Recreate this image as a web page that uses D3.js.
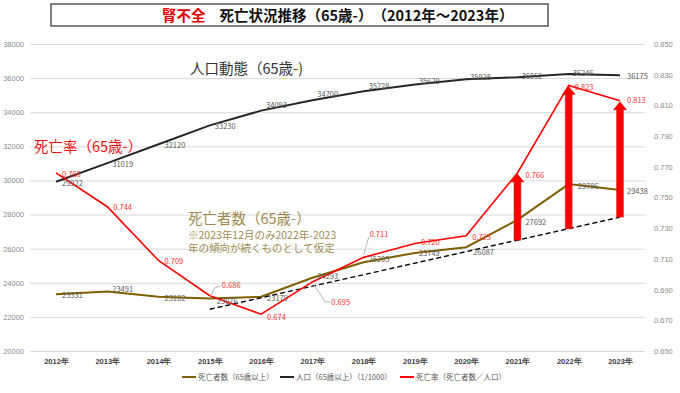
<!DOCTYPE html>
<html lang="ja">
<head>
    <meta charset="UTF-8">
    <title>腎不全 死亡状況推移</title>
    <style>
        body { margin: 0; background: #fff; }
        svg { display: block; font-family: "Noto Sans CJK JP", "Noto Sans", sans-serif; }
    </style>
</head>
<body>
    <div id="chart"></div>
    <script src="https://d3js.org/d3.v7.min.js"></script>
    <script>
        // Data
        const years = ["2012年", "2013年", "2014年", "2015年", "2016年", "2017年", "2018年", "2019年", "2020年", "2021年", "2022年", "2023年"];
        const deaths = [23331, 23491, 23182, 23076, 23179, 24293, 25205, 25749, 26087, 27692, 29786, 29438];
        const population = [29922, 31019, 32120, 33230, 34093, 34700, 35228, 35629, 35928, 36052, 36246, 36175];
        const deathRate = [0.766, 0.744, 0.709, 0.686, 0.674, 0.695, 0.711, 0.720, 0.725, 0.766, 0.823, 0.813];
        const trendYears = ["2015年", "2023年"];
        const trendValues = [22450, 27850];
        const arrowYears = ["2021年", "2022年", "2023年"];
        const leftTicks = [20000, 22000, 24000, 26000, 28000, 30000, 32000, 34000, 36000, 38000];
        const rightTicks = [0.650, 0.670, 0.690, 0.710, 0.730, 0.750, 0.770, 0.790, 0.810, 0.830, 0.850];

        const width = 680, height = 393;
        const svg = d3.select("#chart").append("svg")
            .attr("width", width)
            .attr("height", height);

        const x = d3.scalePoint().domain(years).range([56, 620]);
        const yL = d3.scaleLinear().domain([20000, 38000]).range([351, 44]);
        const yR = d3.scaleLinear().domain([0.65, 0.85]).range([351, 44]);

        // title box
        svg.append("rect")
            .attr("x", 51).attr("y", 4).attr("width", 497).attr("height", 22)
            .attr("fill", "#fff").attr("stroke", "#555").attr("stroke-width", 1.5);
        const title = svg.append("text")
            .attr("x", 162).attr("y", 21)
            .attr("font-size", 14.5).attr("font-weight", "bold");
        title.append("tspan").attr("fill", "#e00000").text("腎不全");
        title.append("tspan").attr("fill", "#111").attr("dx", 14).text("死亡状況推移（65歳-）　（2012年～2023年）");

        // gridlines + left axis
        const gridAxis = d3.axisLeft(yL).tickValues(leftTicks).tickSize(-615).tickPadding(6).tickFormat(d3.format("d"));
        const gl = svg.append("g").attr("transform", "translate(30,0)").call(gridAxis);
        gl.select(".domain").remove();
        gl.selectAll(".tick line").attr("stroke", "#d9d9d9");
        gl.selectAll(".tick text").attr("fill", "#8c8c8c").attr("font-size", 7.5);

        // right axis
        const ra = svg.append("g").attr("transform", "translate(651,0)")
            .call(d3.axisRight(yR).tickValues(rightTicks).tickSize(0).tickFormat(d3.format(".3f")));
        ra.select(".domain").remove();
        ra.selectAll(".tick text").attr("fill", "#8c8c8c").attr("font-size", 7.5).attr("dx", 0);

        // x axis labels
        const xa = svg.append("g").attr("transform", "translate(0,356)")
            .call(d3.axisBottom(x).tickSize(0));
        xa.select(".domain").remove();
        xa.selectAll(".tick text").attr("fill", "#404040").attr("font-size", 7.5).attr("font-weight", "bold");

        // lines
        const lineL = (vals) => d3.line().x((d, i) => x(years[i])).y(d => yL(d))(vals);
        svg.append("path").attr("d", lineL(population))
            .attr("fill", "none").attr("stroke", "#262626").attr("stroke-width", 2);
        svg.append("path").attr("d", lineL(deaths))
            .attr("fill", "none").attr("stroke", "#7f6000").attr("stroke-width", 2);

        // trend (dashed)
        svg.append("path")
            .attr("d", d3.line().x((d, i) => x(trendYears[i])).y(d => yL(d))(trendValues))
            .attr("fill", "none").attr("stroke", "#000").attr("stroke-width", 1.4)
            .attr("stroke-dasharray", "5,3");

        svg.append("path")
            .attr("d", d3.line().x((d, i) => x(years[i])).y(d => yR(d))(deathRate))
            .attr("fill", "none").attr("stroke", "#ff0000").attr("stroke-width", 1.6);

        // arrows from trend line up to death rate
        const trendAt = d3.scaleLinear()
            .domain(trendYears.map(y => x(y)))
            .range(trendValues);
        arrowYears.forEach(yr => {
            const i = years.indexOf(yr);
            const cx = x(yr);
            const yb = yL(trendAt(cx));
            const yt = yR(deathRate[i]) + 1;
            const bw = 3.4, hw = 6.5, hh = 8;
            const pts = [
                [cx - bw, yb], [cx - bw, yt + hh], [cx - hw, yt + hh], [cx, yt],
                [cx + hw, yt + hh], [cx + bw, yt + hh], [cx + bw, yb]
            ];
            svg.append("path").attr("d", d3.line()(pts) + "Z")
                .attr("fill", "#ff0000").attr("stroke", "#e00000").attr("stroke-width", 0.5);
        });

        // data labels
        const popOff = [[6, 2], [5, 1], [6, 1], [5, 1], [5, -5], [5, -6], [5, -5], [4, -3], [4, -2], [4, -1], [4, -1], [7, 1]];
        const deathOff = [[6, 1], [5, -2], [6, 2], [7, 3], [6, 2], [5, -1], [5, -3], [4, 0], [7, 5], [8, 3], [9, 2], [7, 1]];
        const rateOff = [[6, 1], [6, 1], [6, 1], [12, -10], [6, 3], [19, 20], [6, -23], [6, -1], [6, 1], [8, 2], [6, 2], [7, 0]];

        const labels = (vals, ys, off, color, fmt) => {
            svg.append("g").selectAll("text").data(vals).join("text")
                .attr("x", (d, i) => x(years[i]) + off[i][0])
                .attr("y", (d, i) => ys(d) + off[i][1])
                .attr("dy", "0.35em")
                .attr("font-size", 7.5)
                .attr("fill", color)
                .text(fmt);
        };
        labels(population, yL, popOff, "#595959", d => d);
        labels(deaths, yL, deathOff, "#595959", d => d);
        labels(deathRate, yR, rateOff, "#ff3030", d3.format(".3f"));

        // leader lines for moved rate labels
        const leaders = [[3, [[0, 2], [5, -8], [11, -10]]], [5, [[1, 2], [13, 20], [18, 20]]], [6, [[0, -2], [5, -20]]]];
        leaders.forEach(([i, pts]) => {
            const px = x(years[i]), py = yR(deathRate[i]);
            svg.append("path")
                .attr("d", d3.line()(pts.map(p => [px + p[0], py + p[1]])))
                .attr("fill", "none").attr("stroke", "#a6a6a6").attr("stroke-width", 0.8);
        });

        // annotations
        svg.append("text").attr("x", 190).attr("y", 74).attr("font-size", 14.5)
            .attr("fill", "#333").text("人口動態（65歳-)");
        svg.append("text").attr("x", 34).attr("y", 152).attr("font-size", 14.5)
            .attr("fill", "#ee1111").text("死亡率（65歳-）");
        svg.append("text").attr("x", 188).attr("y", 224).attr("font-size", 14.5)
            .attr("fill", "#a08a52").text("死亡者数（65歳-）");
        svg.append("text").attr("x", 188).attr("y", 239).attr("font-size", 10.5)
            .attr("fill", "#a08a52").text("※2023年12月のみ2022年-2023");
        svg.append("text").attr("x", 188).attr("y", 252).attr("font-size", 10.5)
            .attr("fill", "#a08a52").text("年の傾向が続くものとして仮定");

        // legend
        const legend = [
            { label: "死亡者数（65歳以上）", color: "#7f6000", x: 182 },
            { label: "人口（65歳以上）（1/1000）", color: "#262626", x: 280 },
            { label: "死亡率（死亡者数／人口）", color: "#ff0000", x: 400 }
        ];
        const lg = svg.append("g").selectAll("g").data(legend).join("g")
            .attr("transform", d => `translate(${d.x},377)`);
        lg.append("line").attr("x1", 0).attr("x2", 14)
            .attr("stroke", d => d.color).attr("stroke-width", 2);
        lg.append("text").attr("x", 16).attr("dy", "0.35em")
            .attr("font-size", 7.5).attr("fill", "#595959").text(d => d.label);
    </script>
</body>
</html>
